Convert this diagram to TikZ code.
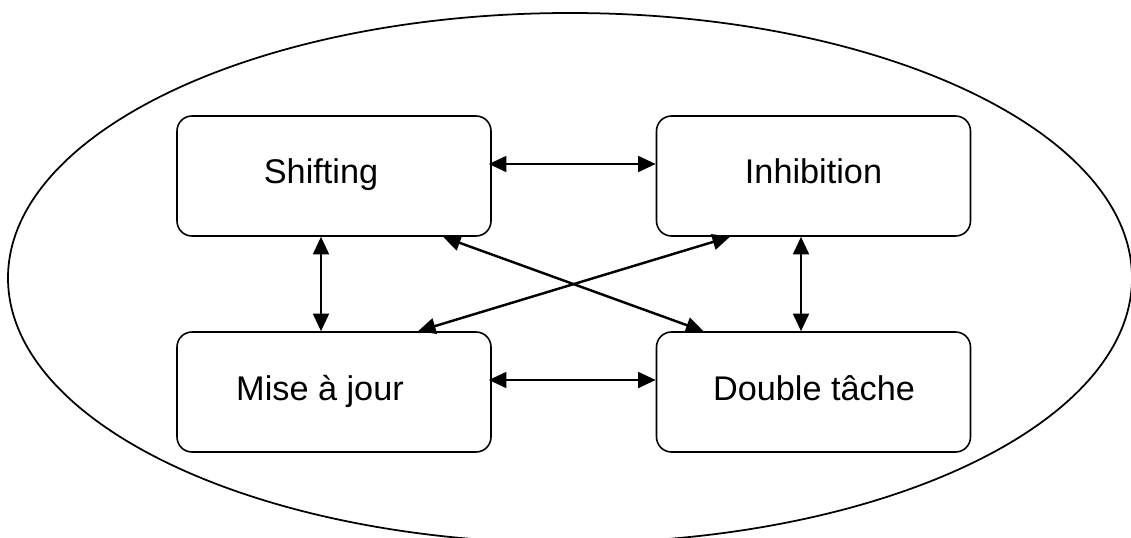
\documentclass[tikz,border=0pt]{standalone}
\usepackage{fontspec}
\setmainfont{Liberation Sans}
\usetikzlibrary{arrows.meta,calc}
\tikzset{
  box/.style={draw, line width=0.9pt, rounded corners=0.3cm, minimum width=314*0.02cm, minimum height=120*0.02cm, inner sep=0pt},
  lbl/.style={inner sep=0pt, anchor=base, font=\fontsize{19.5}{24}\selectfont},
  link/.style={line width=1.4pt, {Triangle[length=10pt,width=9pt]}-{Triangle[length=10pt,width=9pt]}},
  outline/.style={line width=1pt}
}
\begin{document}
\begin{tikzpicture}[x=0.02cm,y=-0.02cm]
\useasboundingbox (0,0) rectangle (1131,537);
\begin{scope}
\clip (0,0) rectangle (1131,537);
\draw[outline] (570,278) ellipse [x radius=562, y radius=265];
\end{scope}
\node[box] (S) at (334,176) {};
\node[box] (I) at (813.5,176) {};
\node[box] (M) at (334,392) {};
\node[box] (D) at (813.5,392) {};
\node[lbl] (tS) at (321,183) {Shifting};
\node[lbl] (tI) at (813.5,183) {Inhibition};
\node[lbl] (tM) at (320,400) {Mise à jour};
\node[lbl] (tD) at (814,400) {Double tâche};
\draw[link] ($(S.east)+(-3,-12)$) -- ($(I.west)+(0,-12)$);
\draw[link] ($(M.east)+(-3,-12)$) -- ($(D.west)+(0,-12)$);
\draw[link] ($(S.south)+(-13,0)$) -- ($(M.north)+(-13,0)$);
\draw[link] ($(I.south)+(-12.5,0)$) -- ($(D.north)+(-12.5,0)$);
\draw[link] ($(S.south)+(109,0)$) -- ($(D.north)+(-110,0)$);
\draw[link] ($(I.south)+(-83.5,0)$) -- ($(M.north)+(84,0)$);
\end{tikzpicture}
\end{document}
